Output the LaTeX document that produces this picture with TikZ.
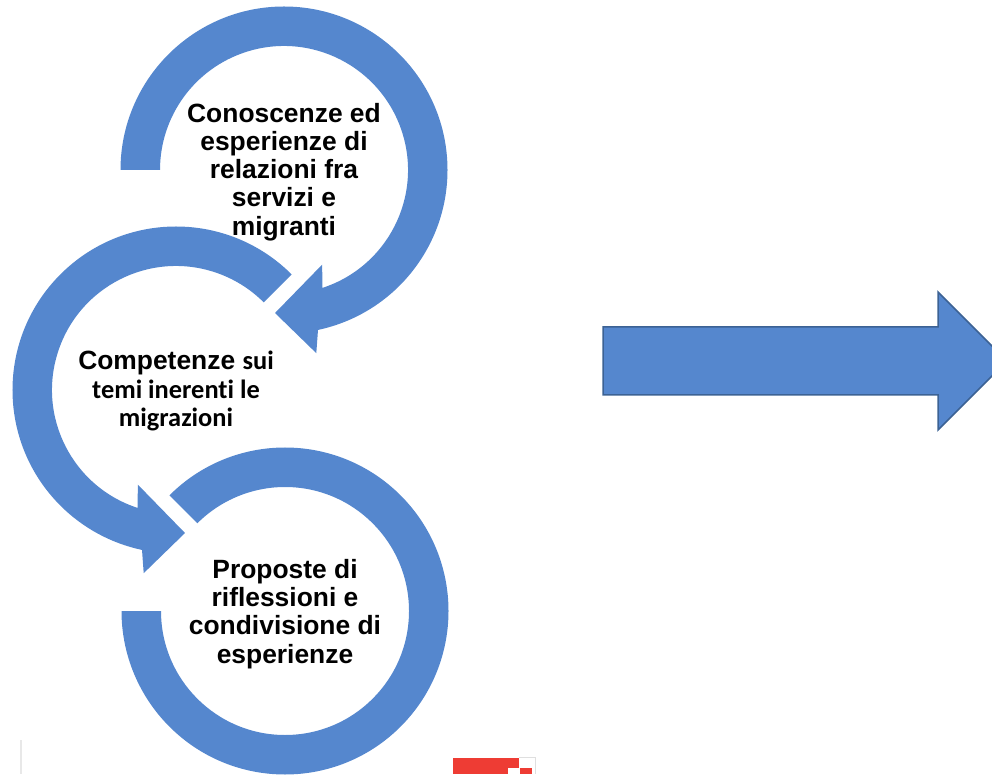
\documentclass[tikz,border=0pt]{standalone}
\usepackage{fontspec}
\setmainfont[Ligatures=NoCommon]{Liberation Sans}
\newfontfamily\calibri[Ligatures=NoCommon]{Carlito}
\definecolor{ringblue}{RGB}{85,135,206}
\definecolor{arrowline}{RGB}{60,98,148}
\definecolor{logored}{RGB}{238,60,52}

\begin{document}
\begin{tikzpicture}[x=1pt,y=1pt,
  ringarrow/.style={fill=ringblue},
  ringtext/.style={align=center,font=\bfseries\fontsize{26.4}{28.2}\selectfont}]
\useasboundingbox (0,0) rectangle (992,774);
\clip (0,0) rectangle (992,774);
\coordinate (c1) at (284,604);
\coordinate (c2) at (176,384);
\coordinate (c3) at (285,163);
\fill[ringarrow,shift={(c1)}] (180:163.5pt) arc[start angle=180,end angle=-78,radius=163.5pt] -- (-80:186pt) -- (-93.6:143.3pt) -- (-68:102pt) -- (-72:124pt) arc[start angle=-72,end angle=180,radius=124pt] -- cycle;
\fill[ringarrow,shift={(c2)}] (45:163.5pt) arc[start angle=45,end angle=258,radius=163.5pt] -- (260:186pt) -- (273.6:143.3pt) -- (248:102pt) -- (252:124pt) arc[start angle=252,end angle=45,radius=124pt] -- cycle;
\fill[ringarrow,shift={(c3)}] (135:163.5pt) arc[start angle=135,end angle=-180,radius=163.5pt] -- (180:124pt) arc[start angle=-180,end angle=135,radius=124pt] -- cycle;
\node[ringtext,yshift=-2pt] (conoscenze) at (c1) {Conoscenze ed\\esperienze di\\relazioni fra\\servizi e\\migranti};
\node[ringtext,yshift=-1pt] (competenze) at (c2) {Competenze {\calibri sui}\\{\calibri temi inerenti le}\\{\calibri migrazioni}};
\node[ringtext,yshift=-3pt] (proposte) at (c3) {Proposte di\\riflessioni e\\condivisione di\\esperienze};
% big arrow to the right
\draw[fill=ringblue,draw=arrowline,line width=1.5pt] (603,447) -- (938,447) -- (938,482) -- (1007,413) -- (938,344) -- (938,379) -- (603,379) -- cycle;
\draw[gray!18,line width=2pt] (20.7,0) -- (20.7,34);
\fill[logored] (453.3,0) rectangle (519,16.3);
\fill[white] (507.7,0) rectangle (519,6.3);
\fill[logored] (520,0) rectangle (532,6.3);
\draw[gray!25,line width=1pt] (519,16.3) -- (535,16.3) -- (535,0);
\end{tikzpicture}
\end{document}
